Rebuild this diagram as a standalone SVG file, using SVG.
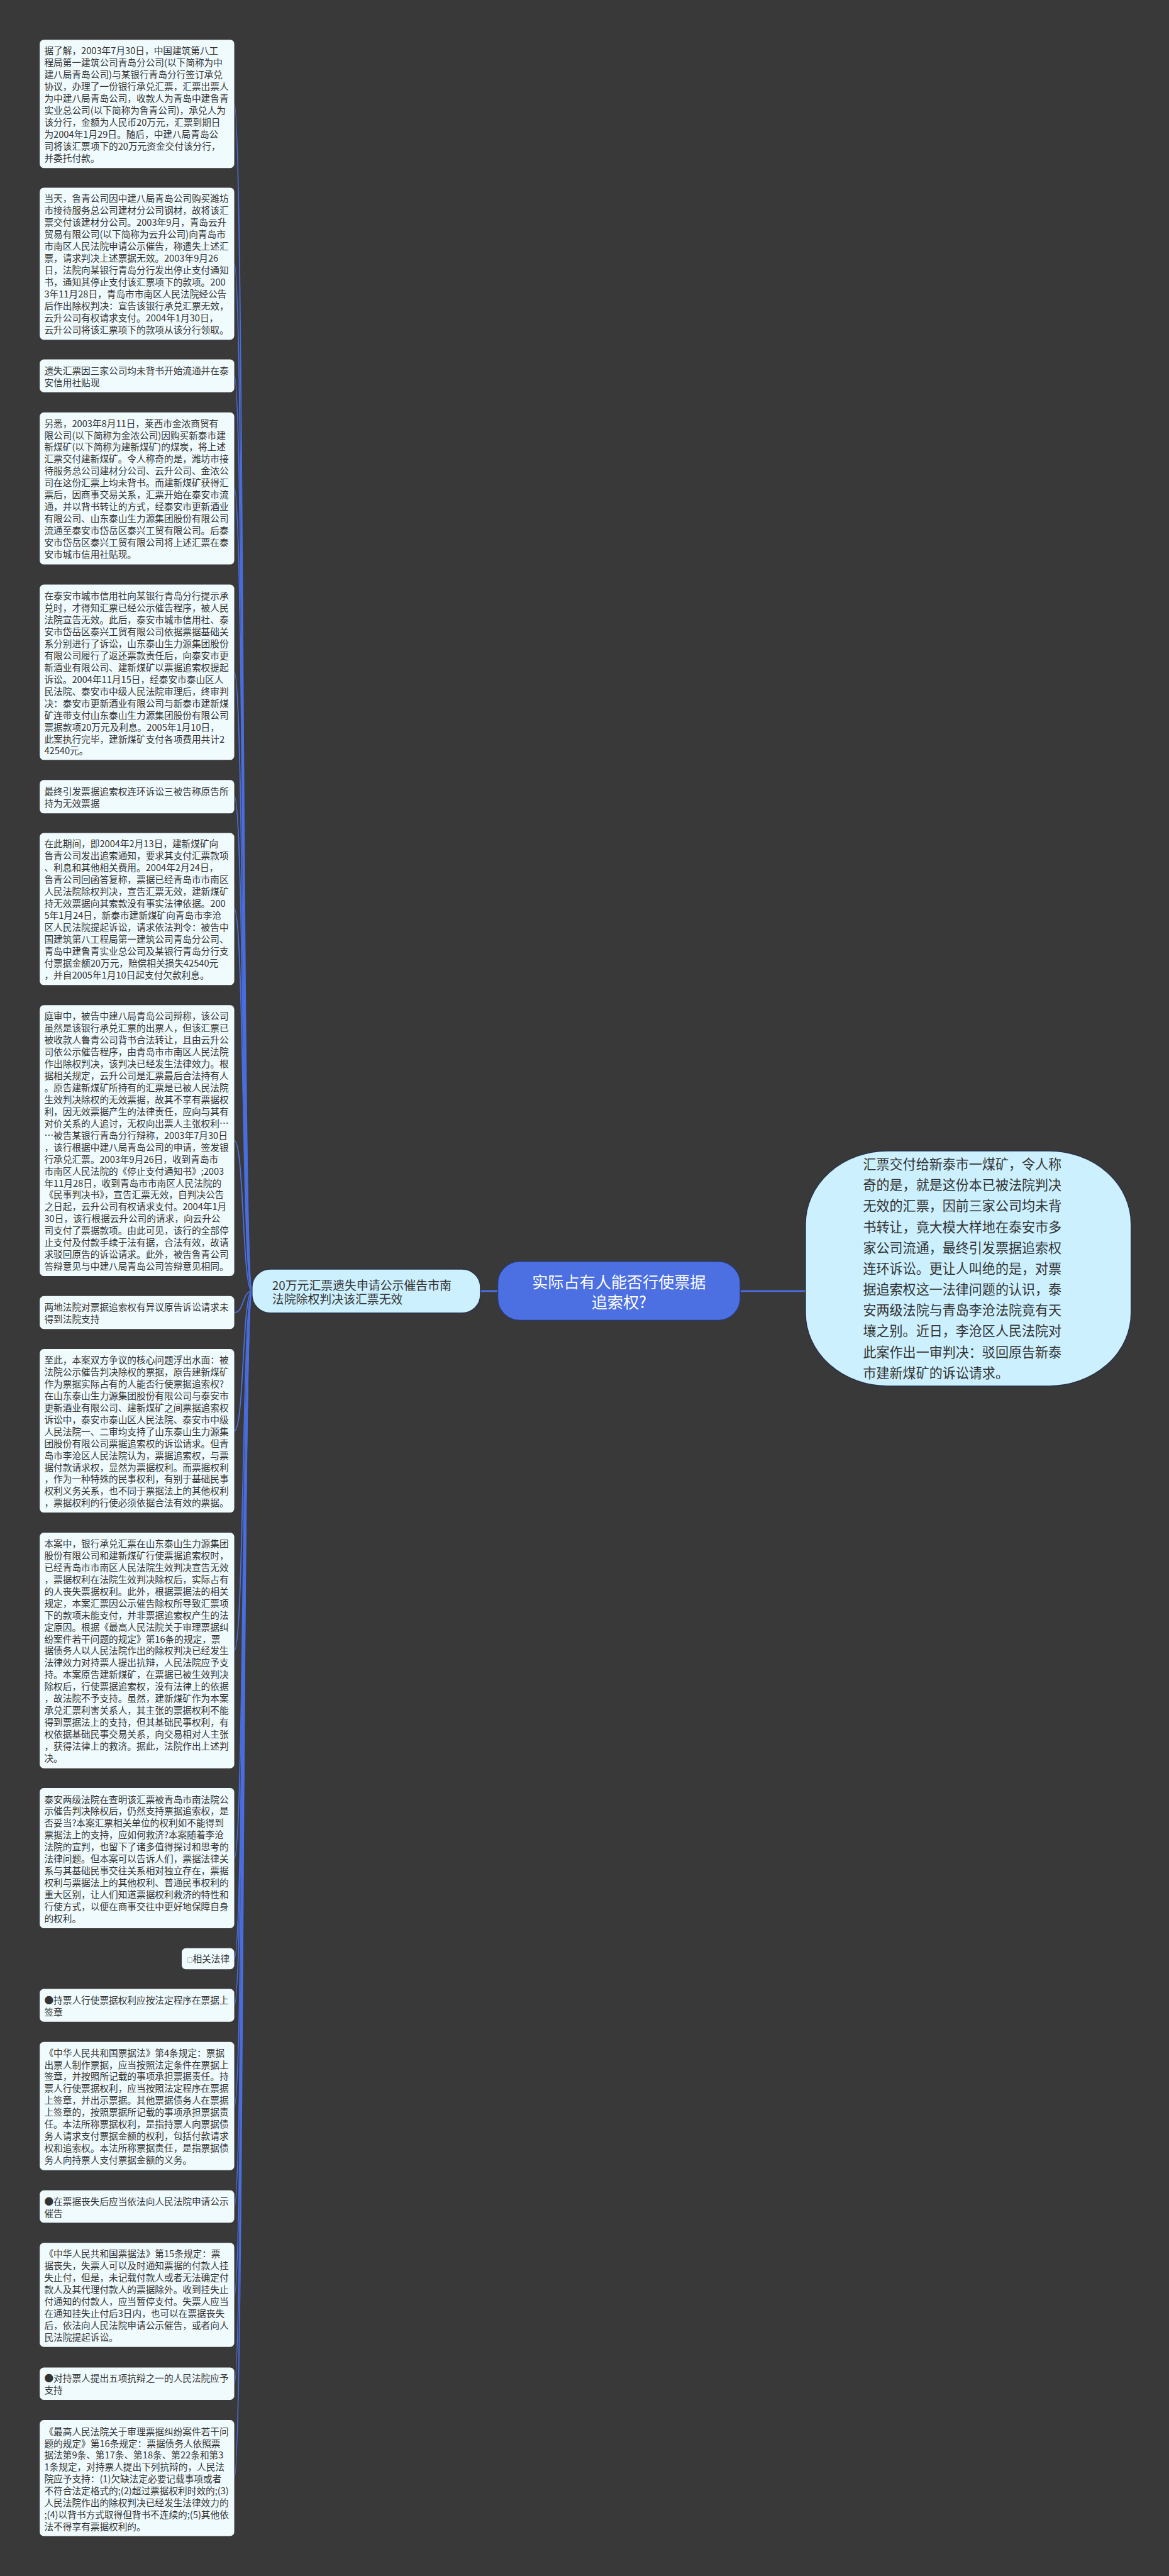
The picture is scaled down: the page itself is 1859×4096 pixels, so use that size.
<svg xmlns="http://www.w3.org/2000/svg" width="1859" height="4096" viewBox="0 0 1859 4096">
<defs>
<style>
.bg{fill:#393939}
.bx{fill:#f0fbfe}
.t{font-family:"Noto Sans CJK SC","Noto Sans",sans-serif;font-size:20.2px;fill:#333333}
.ln{fill:none;stroke:#4a6ee0;stroke-width:2.5}
.lk{fill:none;stroke:#4a6ee0;stroke-width:4}
.sub{fill:#ccf0fd;stroke:#27324a;stroke-width:2}
.ctr{fill:#4c6fe1;stroke:#2a3a70;stroke-width:2}
.t26{font-family:"Noto Sans CJK SC","Noto Sans",sans-serif;font-size:26px;fill:#333333}
.t29{font-family:"Noto Sans CJK SC","Noto Sans",sans-serif;font-size:29px;fill:#333333}
.tc{font-family:"Noto Sans CJK SC","Noto Sans",sans-serif;font-size:34.6px;fill:#ffffff;text-anchor:middle}
</style>
</defs>
<rect class="bg" x="0" y="0" width="1859" height="4096"/>
<g transform="scale(0.72617)">
<g id="connectors">
<path class="lk" d="M1052 2827 L1090 2827"/>
<path class="lk" d="M1621 2827 L1766 2827"/>
<path class="ln" d="M552 2827 C530 2827 535 227.5 513 227.5"/>
<path class="ln" d="M552 2827 C530 2827 535 577.5 513 577.5"/>
<path class="ln" d="M552 2827 C530 2827 535 823 513 823"/>
<path class="ln" d="M552 2827 C530 2827 535 1069.5 513 1069.5"/>
<path class="ln" d="M552 2827 C530 2827 535 1472 513 1472"/>
<path class="ln" d="M552 2827 C530 2827 535 1744.5 513 1744.5"/>
<path class="ln" d="M552 2827 C530 2827 535 1990.5 513 1990.5"/>
<path class="ln" d="M552 2827 C530 2827 535 2497.5 513 2497.5"/>
<path class="ln" d="M552 2827 C530 2827 535 2874 513 2874"/>
<path class="ln" d="M552 2827 C530 2827 535 3133 513 3133"/>
<path class="ln" d="M552 2827 C530 2827 535 3614 513 3614"/>
<path class="ln" d="M552 2827 C530 2827 535 4068.5 513 4068.5"/>
<path class="ln" d="M552 2827 C530 2827 535 4289 513 4289"/>
<path class="ln" d="M552 2827 C530 2827 535 4391 513 4391"/>
<path class="ln" d="M552 2827 C530 2827 535 4611.5 513 4611.5"/>
<path class="ln" d="M552 2827 C530 2827 535 4831.5 513 4831.5"/>
<path class="ln" d="M552 2827 C530 2827 535 5025 513 5025"/>
<path class="ln" d="M552 2827 C530 2827 535 5219.5 513 5219.5"/>
<path class="ln" d="M552 2827 C530 2827 535 5426 513 5426"/>
</g>

<g id="center">
<rect class="ctr" x="1090" y="2762" width="531" height="129" rx="48"/>
<text class="tc"><tspan x="1355.5" y="2820">实际占有人能否行使票据</tspan><tspan x="1355.5" y="2865">追索权?</tspan></text>
</g>

<g id="right-node">
<rect class="sub" x="1764" y="2520" width="713" height="515" rx="180" ry="160"/>
<text class="t29"><tspan x="1890" y="2560">汇票交付给新泰市一煤矿，令人称</tspan><tspan x="1890" dy="45.7">奇的是，就是这份本已被法院判决</tspan><tspan x="1890" dy="45.7">无效的汇票，因前三家公司均未背</tspan><tspan x="1890" dy="45.7">书转让，竟大模大样地在泰安市多</tspan><tspan x="1890" dy="45.7">家公司流通，最终引发票据追索权</tspan><tspan x="1890" dy="45.7">连环诉讼。更让人叫绝的是，对票</tspan><tspan x="1890" dy="45.7">据追索权这一法律问题的认识，泰</tspan><tspan x="1890" dy="45.7">安两级法院与青岛李沧法院竟有天</tspan><tspan x="1890" dy="45.7">壤之别。近日，李沧区人民法院对</tspan><tspan x="1890" dy="45.7">此案作出一审判决：驳回原告新泰</tspan><tspan x="1890" dy="45.7">市建新煤矿的诉讼请求。</tspan></text>
</g>

<g id="sub-node">
<rect class="sub" x="552" y="2779" width="500" height="96" rx="40"/>
<text class="t26"><tspan x="596" y="2824">20万元汇票遗失申请公示催告市南</tspan><tspan x="596" dy="31">法院除权判决该汇票无效</tspan></text>
</g>

<g id="b1">
<rect class="bx" x="87" y="87" width="426" height="281" rx="9"/>
<text class="t"><tspan x="97" y="118.5">据了解，2003年7月30日，中国建筑第八工</tspan><tspan x="97" dy="26.1">程局第一建筑公司青岛分公司(以下简称为中</tspan><tspan x="97" dy="26.1">建八局青岛公司)与某银行青岛分行签订承兑</tspan><tspan x="97" dy="26.1">协议，办理了一份银行承兑汇票，汇票出票人</tspan><tspan x="97" dy="26.1">为中建八局青岛公司，收款人为青岛中建鲁青</tspan><tspan x="97" dy="26.1">实业总公司(以下简称为鲁青公司)，承兑人为</tspan><tspan x="97" dy="26.1">该分行，金额为人民币20万元，汇票到期日</tspan><tspan x="97" dy="26.1">为2004年1月29日。随后，中建八局青岛公</tspan><tspan x="97" dy="26.1">司将该汇票项下的20万元资金交付该分行，</tspan><tspan x="97" dy="26.1">并委托付款。</tspan></text>
</g>

<g id="b2">
<rect class="bx" x="87" y="411" width="426" height="333" rx="9"/>
<text class="t"><tspan x="97" y="442.5">当天，鲁青公司因中建八局青岛公司购买潍坊</tspan><tspan x="97" dy="26.1">市接待服务总公司建材分公司钢材，故将该汇</tspan><tspan x="97" dy="26.1">票交付该建材分公司。2003年9月，青岛云升</tspan><tspan x="97" dy="26.1">贸易有限公司(以下简称为云升公司)向青岛市</tspan><tspan x="97" dy="26.1">市南区人民法院申请公示催告，称遗失上述汇</tspan><tspan x="97" dy="26.1">票，请求判决上述票据无效。2003年9月26</tspan><tspan x="97" dy="26.1">日，法院向某银行青岛分行发出停止支付通知</tspan><tspan x="97" dy="26.1">书，通知其停止支付该汇票项下的款项。200</tspan><tspan x="97" dy="26.1">3年11月28日，青岛市市南区人民法院经公告</tspan><tspan x="97" dy="26.1">后作出除权判决：宣告该银行承兑汇票无效，</tspan><tspan x="97" dy="26.1">云升公司有权请求支付。2004年1月30日，</tspan><tspan x="97" dy="26.1">云升公司将该汇票项下的款项从该分行领取。</tspan></text>
</g>

<g id="b3">
<rect class="bx" x="87" y="787" width="426" height="72" rx="9"/>
<text class="t"><tspan x="97" y="819.5">遗失汇票因三家公司均未背书开始流通并在泰</tspan><tspan x="97" dy="26.1">安信用社贴现</tspan></text>
</g>

<g id="b4">
<rect class="bx" x="87" y="903" width="426" height="333" rx="9"/>
<text class="t"><tspan x="97" y="934.5">另悉，2003年8月11日，莱西市金浓商贸有</tspan><tspan x="97" dy="26.1">限公司(以下简称为金浓公司)因购买新泰市建</tspan><tspan x="97" dy="26.1">新煤矿(以下简称为建新煤矿)的煤炭，将上述</tspan><tspan x="97" dy="26.1">汇票交付建新煤矿。令人称奇的是，潍坊市接</tspan><tspan x="97" dy="26.1">待服务总公司建材分公司、云升公司、金浓公</tspan><tspan x="97" dy="26.1">司在这份汇票上均未背书。而建新煤矿获得汇</tspan><tspan x="97" dy="26.1">票后，因商事交易关系，汇票开始在泰安市流</tspan><tspan x="97" dy="26.1">通，并以背书转让的方式，经泰安市更新酒业</tspan><tspan x="97" dy="26.1">有限公司、山东泰山生力源集团股份有限公司</tspan><tspan x="97" dy="26.1">流通至泰安市岱岳区泰兴工贸有限公司。后泰</tspan><tspan x="97" dy="26.1">安市岱岳区泰兴工贸有限公司将上述汇票在泰</tspan><tspan x="97" dy="26.1">安市城市信用社贴现。</tspan></text>
</g>

<g id="b5">
<rect class="bx" x="87" y="1280" width="426" height="384" rx="9"/>
<text class="t"><tspan x="97" y="1312.5">在泰安市城市信用社向某银行青岛分行提示承</tspan><tspan x="97" dy="26.1">兑时，才得知汇票已经公示催告程序，被人民</tspan><tspan x="97" dy="26.1">法院宣告无效。此后，泰安市城市信用社、泰</tspan><tspan x="97" dy="26.1">安市岱岳区泰兴工贸有限公司依据票据基础关</tspan><tspan x="97" dy="26.1">系分别进行了诉讼，山东泰山生力源集团股份</tspan><tspan x="97" dy="26.1">有限公司履行了返还票款责任后，向泰安市更</tspan><tspan x="97" dy="26.1">新酒业有限公司、建新煤矿以票据追索权提起</tspan><tspan x="97" dy="26.1">诉讼。2004年11月15日，经泰安市泰山区人</tspan><tspan x="97" dy="26.1">民法院、泰安市中级人民法院审理后，终审判</tspan><tspan x="97" dy="26.1">决：泰安市更新酒业有限公司与新泰市建新煤</tspan><tspan x="97" dy="26.1">矿连带支付山东泰山生力源集团股份有限公司</tspan><tspan x="97" dy="26.1">票据款项20万元及利息。2005年1月10日，</tspan><tspan x="97" dy="26.1">此案执行完毕，建新煤矿支付各项费用共计2</tspan><tspan x="97" dy="26.1">42540元。</tspan></text>
</g>

<g id="b6">
<rect class="bx" x="87" y="1708" width="426" height="73" rx="9"/>
<text class="t"><tspan x="97" y="1740.5">最终引发票据追索权连环诉讼三被告称原告所</tspan><tspan x="97" dy="26.1">持为无效票据</tspan></text>
</g>

<g id="b7">
<rect class="bx" x="87" y="1824" width="426" height="333" rx="9"/>
<text class="t"><tspan x="97" y="1855.5">在此期间，即2004年2月13日，建新煤矿向</tspan><tspan x="97" dy="26.1">鲁青公司发出追索通知，要求其支付汇票款项</tspan><tspan x="97" dy="26.1">、利息和其他相关费用。2004年2月24日，</tspan><tspan x="97" dy="26.1">鲁青公司回函答复称，票据已经青岛市市南区</tspan><tspan x="97" dy="26.1">人民法院除权判决，宣告汇票无效，建新煤矿</tspan><tspan x="97" dy="26.1">持无效票据向其索款没有事实法律依据。200</tspan><tspan x="97" dy="26.1">5年1月24日，新泰市建新煤矿向青岛市李沧</tspan><tspan x="97" dy="26.1">区人民法院提起诉讼，请求依法判令：被告中</tspan><tspan x="97" dy="26.1">国建筑第八工程局第一建筑公司青岛分公司、</tspan><tspan x="97" dy="26.1">青岛中建鲁青实业总公司及某银行青岛分行支</tspan><tspan x="97" dy="26.1">付票据金额20万元，赔偿相关损失42540元</tspan><tspan x="97" dy="26.1">，并自2005年1月10日起支付欠款利息。</tspan></text>
</g>

<g id="b8">
<rect class="bx" x="87" y="2201" width="426" height="593" rx="9"/>
<text class="t"><tspan x="97" y="2232.5">庭审中，被告中建八局青岛公司辩称，该公司</tspan><tspan x="97" dy="26.1">虽然是该银行承兑汇票的出票人，但该汇票已</tspan><tspan x="97" dy="26.1">被收款人鲁青公司背书合法转让，且由云升公</tspan><tspan x="97" dy="26.1">司依公示催告程序，由青岛市市南区人民法院</tspan><tspan x="97" dy="26.1">作出除权判决，该判决已经发生法律效力。根</tspan><tspan x="97" dy="26.1">据相关规定，云升公司是汇票最后合法持有人</tspan><tspan x="97" dy="26.1">。原告建新煤矿所持有的汇票是已被人民法院</tspan><tspan x="97" dy="26.1">生效判决除权的无效票据，故其不享有票据权</tspan><tspan x="97" dy="26.1">利，因无效票据产生的法律责任，应向与其有</tspan><tspan x="97" dy="26.1">对价关系的人追讨，无权向出票人主张权利…</tspan><tspan x="97" dy="26.1">…被告某银行青岛分行辩称，2003年7月30日</tspan><tspan x="97" dy="26.1">，该行根据中建八局青岛公司的申请，签发银</tspan><tspan x="97" dy="26.1">行承兑汇票。2003年9月26日，收到青岛市</tspan><tspan x="97" dy="26.1">市南区人民法院的《停止支付通知书》;2003</tspan><tspan x="97" dy="26.1">年11月28日，收到青岛市市南区人民法院的</tspan><tspan x="97" dy="26.1">《民事判决书》，宣告汇票无效，自判决公告</tspan><tspan x="97" dy="26.1">之日起，云升公司有权请求支付。2004年1月</tspan><tspan x="97" dy="26.1">30日，该行根据云升公司的请求，向云升公</tspan><tspan x="97" dy="26.1">司支付了票据款项。由此可见，该行的全部停</tspan><tspan x="97" dy="26.1">止支付及付款手续于法有据，合法有效，故请</tspan><tspan x="97" dy="26.1">求驳回原告的诉讼请求。此外，被告鲁青公司</tspan><tspan x="97" dy="26.1">答辩意见与中建八局青岛公司答辩意见相同。</tspan></text>
</g>

<g id="b9">
<rect class="bx" x="87" y="2838" width="426" height="72" rx="9"/>
<text class="t"><tspan x="97" y="2869.5">两地法院对票据追索权有异议原告诉讼请求未</tspan><tspan x="97" dy="26.1">得到法院支持</tspan></text>
</g>

<g id="b10">
<rect class="bx" x="87" y="2954" width="426" height="358" rx="9"/>
<text class="t"><tspan x="97" y="2985.5">至此，本案双方争议的核心问题浮出水面：被</tspan><tspan x="97" dy="26.1">法院公示催告判决除权的票据，原告建新煤矿</tspan><tspan x="97" dy="26.1">作为票据实际占有的人能否行使票据追索权?</tspan><tspan x="97" dy="26.1">在山东泰山生力源集团股份有限公司与泰安市</tspan><tspan x="97" dy="26.1">更新酒业有限公司、建新煤矿之间票据追索权</tspan><tspan x="97" dy="26.1">诉讼中，泰安市泰山区人民法院、泰安市中级</tspan><tspan x="97" dy="26.1">人民法院一、二审均支持了山东泰山生力源集</tspan><tspan x="97" dy="26.1">团股份有限公司票据追索权的诉讼请求。但青</tspan><tspan x="97" dy="26.1">岛市李沧区人民法院认为，票据追索权，与票</tspan><tspan x="97" dy="26.1">据付款请求权，显然为票据权利。而票据权利</tspan><tspan x="97" dy="26.1">，作为一种特殊的民事权利，有别于基础民事</tspan><tspan x="97" dy="26.1">权利义务关系，也不同于票据法上的其他权利</tspan><tspan x="97" dy="26.1">，票据权利的行使必须依据合法有效的票据。</tspan></text>
</g>

<g id="b11">
<rect class="bx" x="87" y="3356" width="426" height="516" rx="9"/>
<text class="t"><tspan x="97" y="3387.5">本案中，银行承兑汇票在山东泰山生力源集团</tspan><tspan x="97" dy="26.1">股份有限公司和建新煤矿行使票据追索权时，</tspan><tspan x="97" dy="26.1">已经青岛市市南区人民法院生效判决宣告无效</tspan><tspan x="97" dy="26.1">，票据权利在法院生效判决除权后，实际占有</tspan><tspan x="97" dy="26.1">的人丧失票据权利。此外，根据票据法的相关</tspan><tspan x="97" dy="26.1">规定，本案汇票因公示催告除权所导致汇票项</tspan><tspan x="97" dy="26.1">下的款项未能支付，并非票据追索权产生的法</tspan><tspan x="97" dy="26.1">定原因。根据《最高人民法院关于审理票据纠</tspan><tspan x="97" dy="26.1">纷案件若干问题的规定》第16条的规定，票</tspan><tspan x="97" dy="26.1">据债务人以人民法院作出的除权判决已经发生</tspan><tspan x="97" dy="26.1">法律效力对持票人提出抗辩，人民法院应予支</tspan><tspan x="97" dy="26.1">持。本案原告建新煤矿，在票据已被生效判决</tspan><tspan x="97" dy="26.1">除权后，行使票据追索权，没有法律上的依据</tspan><tspan x="97" dy="26.1">，故法院不予支持。虽然，建新煤矿作为本案</tspan><tspan x="97" dy="26.1">承兑汇票利害关系人，其主张的票据权利不能</tspan><tspan x="97" dy="26.1">得到票据法上的支持，但其基础民事权利，有</tspan><tspan x="97" dy="26.1">权依据基础民事交易关系，向交易相对人主张</tspan><tspan x="97" dy="26.1">，获得法律上的救济。据此，法院作出上述判</tspan><tspan x="97" dy="26.1">决。</tspan></text>
</g>

<g id="b12">
<rect class="bx" x="87" y="3915" width="426" height="307" rx="9"/>
<text class="t"><tspan x="97" y="3947.5">泰安两级法院在查明该汇票被青岛市南法院公</tspan><tspan x="97" dy="26.1">示催告判决除权后，仍然支持票据追索权，是</tspan><tspan x="97" dy="26.1">否妥当?本案汇票相关单位的权利如不能得到</tspan><tspan x="97" dy="26.1">票据法上的支持，应如何救济?本案随着李沧</tspan><tspan x="97" dy="26.1">法院的宣判，也留下了诸多值得探讨和思考的</tspan><tspan x="97" dy="26.1">法律问题。但本案可以告诉人们，票据法律关</tspan><tspan x="97" dy="26.1">系与其基础民事交往关系相对独立存在，票据</tspan><tspan x="97" dy="26.1">权利与票据法上的其他权利、普通民事权利的</tspan><tspan x="97" dy="26.1">重大区别，让人们知道票据权利救济的特性和</tspan><tspan x="97" dy="26.1">行使方式，以便在商事交往中更好地保障自身</tspan><tspan x="97" dy="26.1">的权利。</tspan></text>
</g>

<g id="b13">
<rect class="bx" x="398" y="4266" width="115" height="46" rx="9"/>
<text class="t" x="409" y="4296.5"><tspan style="font-size:13px">□</tspan>相关法律</text>
</g>

<g id="b14">
<rect class="bx" x="87" y="4355" width="426" height="72" rx="9"/>
<text class="t"><tspan x="97" y="4387.5">●持票人行使票据权利应按法定程序在票据上</tspan><tspan x="97" dy="26.1">签章</tspan></text>
</g>

<g id="b15">
<rect class="bx" x="87" y="4471" width="426" height="281" rx="9"/>
<text class="t"><tspan x="97" y="4502.5">《中华人民共和国票据法》第4条规定：票据</tspan><tspan x="97" dy="26.1">出票人制作票据，应当按照法定条件在票据上</tspan><tspan x="97" dy="26.1">签章，并按照所记载的事项承担票据责任。持</tspan><tspan x="97" dy="26.1">票人行使票据权利，应当按照法定程序在票据</tspan><tspan x="97" dy="26.1">上签章，并出示票据。其他票据债务人在票据</tspan><tspan x="97" dy="26.1">上签章的，按照票据所记载的事项承担票据责</tspan><tspan x="97" dy="26.1">任。本法所称票据权利，是指持票人向票据债</tspan><tspan x="97" dy="26.1">务人请求支付票据金额的权利，包括付款请求</tspan><tspan x="97" dy="26.1">权和追索权。本法所称票据责任，是指票据债</tspan><tspan x="97" dy="26.1">务人向持票人支付票据金额的义务。</tspan></text>
</g>

<g id="b16">
<rect class="bx" x="87" y="4796" width="426" height="71" rx="9"/>
<text class="t"><tspan x="97" y="4827.5">●在票据丧失后应当依法向人民法院申请公示</tspan><tspan x="97" dy="26.1">催告</tspan></text>
</g>

<g id="b17">
<rect class="bx" x="87" y="4911" width="426" height="228" rx="9"/>
<text class="t"><tspan x="97" y="4942.5">《中华人民共和国票据法》第15条规定：票</tspan><tspan x="97" dy="26.1">据丧失，失票人可以及时通知票据的付款人挂</tspan><tspan x="97" dy="26.1">失止付，但是，未记载付款人或者无法确定付</tspan><tspan x="97" dy="26.1">款人及其代理付款人的票据除外。收到挂失止</tspan><tspan x="97" dy="26.1">付通知的付款人，应当暂停支付。失票人应当</tspan><tspan x="97" dy="26.1">在通知挂失止付后3日内，也可以在票据丧失</tspan><tspan x="97" dy="26.1">后，依法向人民法院申请公示催告，或者向人</tspan><tspan x="97" dy="26.1">民法院提起诉讼。</tspan></text>
</g>

<g id="b18">
<rect class="bx" x="87" y="5184" width="426" height="71" rx="9"/>
<text class="t"><tspan x="97" y="5215.5">●对持票人提出五项抗辩之一的人民法院应予</tspan><tspan x="97" dy="26.1">支持</tspan></text>
</g>

<g id="b19">
<rect class="bx" x="87" y="5299" width="426" height="254" rx="9"/>
<text class="t"><tspan x="97" y="5331.5">《最高人民法院关于审理票据纠纷案件若干问</tspan><tspan x="97" dy="26.1">题的规定》第16条规定：票据债务人依照票</tspan><tspan x="97" dy="26.1">据法第9条、第17条、第18条、第22条和第3</tspan><tspan x="97" dy="26.1">1条规定，对持票人提出下列抗辩的，人民法</tspan><tspan x="97" dy="26.1">院应予支持：(1)欠缺法定必要记载事项或者</tspan><tspan x="97" dy="26.1">不符合法定格式的;(2)超过票据权利时效的;(3)</tspan><tspan x="97" dy="26.1">人民法院作出的除权判决已经发生法律效力的</tspan><tspan x="97" dy="26.1">;(4)以背书方式取得但背书不连续的;(5)其他依</tspan><tspan x="97" dy="26.1">法不得享有票据权利的。</tspan></text>
</g>
</g>
</svg>
